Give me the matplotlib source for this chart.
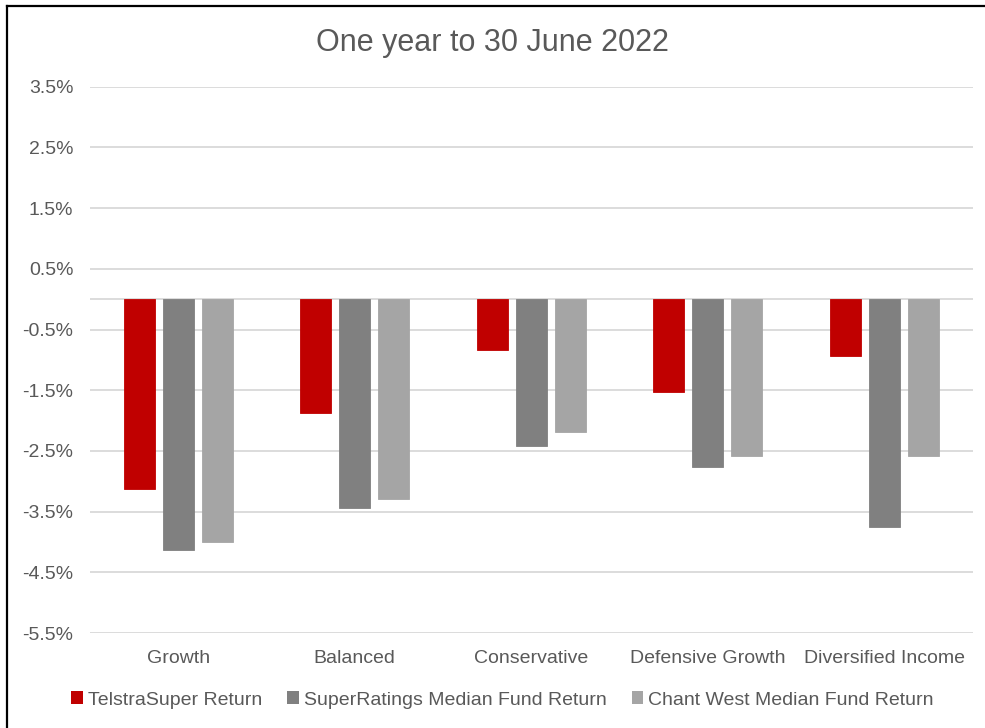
import numpy as np
import matplotlib.pyplot as plt
from matplotlib.patches import Patch
from matplotlib.lines import Line2D

plt.rcParams['font.family'] = ['Liberation Sans', 'DejaVu Sans']

categories = ['Growth', 'Balanced', 'Conservative', 'Defensive Growth', 'Diversified Income']
series_names = ['TelstraSuper Return', 'SuperRatings Median Fund Return',
                'Chant West Median Fund Return']
telstra = [-3.13, -1.87, -0.84, -1.53, -0.94]
superratings = [-4.14, -3.44, -2.42, -2.76, -3.75]
chantwest = [-4.0, -3.3, -2.19, -2.59, -2.59]
yticks = [3.5, 2.5, 1.5, 0.5, -0.5, -1.5, -2.5, -3.5, -4.5, -5.5]

colours = ['#C00000', '#808080', '#A5A5A5']
text_col = '#595959'
label_size = 14

fig = plt.figure(figsize=(9.85, 7.28), dpi=100)
ax = fig.add_axes([90 / 985, 1 - 633 / 728, (972.7 - 90) / 985, (633 - 86.7) / 728])

x = np.arange(len(categories))
width = 0.175
step = 0.221
for k, vals in enumerate([telstra, superratings, chantwest]):
    ax.bar(x + (k - 1) * step, vals, width, color=colours[k], zorder=3,
           edgecolor=colours[k], linewidth=0.6)

ax.set_xlim(-0.5, len(categories) - 0.5)
ax.set_ylim(-5.5, 3.5)
ax.set_yticks(yticks)
ax.set_yticklabels([f'{v:.1f}%' for v in yticks])
ax.set_xticks(x)
ax.set_xticklabels(categories)
ax.tick_params(axis='both', length=0, labelsize=label_size, labelcolor=text_col)
ax.tick_params(axis='y', pad=12)
ax.tick_params(axis='x', pad=12)
ax.grid(axis='y', color='#D9D9D9', linewidth=1.3, zorder=0)
ax.axhline(0, color='#D9D9D9', linewidth=1.3, zorder=1)
for s in ax.spines.values():
    s.set_visible(False)

fig.text(0.5, 1 - 43 / 728, 'One year to 30 June 2022', ha='center', va='center',
         fontsize=22, color=text_col)

handles = [Patch(facecolor=c, edgecolor='none') for c in colours]
fig.legend(handles, series_names, loc='center', bbox_to_anchor=(0.51, 1 - 700 / 728),
           ncol=3, frameon=False, fontsize=label_size, labelcolor=text_col,
           handlelength=0.6, handleheight=0.6, handletextpad=0.25,
           columnspacing=1.3)

# chart frame (only left and top edges fall inside the image)
fig.add_artist(Line2D([7 / 985, 7 / 985], [0, 1 - 6 / 728], color='black', linewidth=1.6))
fig.add_artist(Line2D([7 / 985, 1], [1 - 6 / 728, 1 - 6 / 728], color='black', linewidth=1.6))

fig.savefig('out.png', dpi=100)
